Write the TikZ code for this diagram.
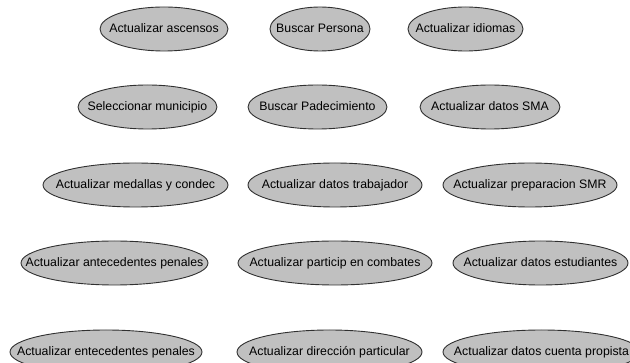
\documentclass[tikz,border=0pt]{standalone}
\usepackage{fontspec}
\setmainfont{Liberation Sans}
\usetikzlibrary{shapes.geometric}
\definecolor{casefill}{HTML}{C0C0C0}
\definecolor{caseline}{HTML}{303030}
% label of zero width, so that the ellipse keeps its given size
\newcommand{\caselabel}[1]{\makebox[0pt]{#1}}
\begin{document}
\begin{tikzpicture}[x=1pt,y=-1pt,
  usecase/.style={ellipse, draw=caseline, fill=casefill, line width=0.9pt,
    inner sep=0pt, minimum height=44pt, text height=1.6ex, text depth=0.3ex,
    font=\fontsize{12.3}{14}\selectfont, text=black}]
\useasboundingbox (0,0) rectangle (630,363);
% row 1
\node[usecase, minimum width=128pt] (asc)  at (164,29)   {\caselabel{Actualizar ascensos}};
\node[usecase, minimum width=100pt] (bper) at (320,29)   {\caselabel{Buscar Persona}};
\node[usecase, minimum width=115pt] (idi)  at (465.5,29) {\caselabel{Actualizar idiomas}};
% row 2
\node[usecase, minimum width=139pt] (mun)  at (147.5,107) {\caselabel{Seleccionar municipio}};
\node[usecase, minimum width=139pt] (bpad) at (317.5,107) {\caselabel{Buscar Padecimiento}};
\node[usecase, minimum width=140pt] (sma)  at (490,107)   {\caselabel{Actualizar datos SMA}};
% row 3
\node[usecase, minimum width=185pt] (med)  at (135.5,185) {\caselabel{Actualizar medallas y condec}};
\node[usecase, minimum width=174pt] (trab) at (335,185)   {\caselabel{Actualizar datos trabajador}};
\node[usecase, minimum width=174pt] (smr)  at (530,185)   {\caselabel{Actualizar preparacion SMR}};
% row 4
\node[usecase, minimum width=187pt] (ant)  at (114.5,263) {\caselabel{Actualizar antecedentes penales}};
\node[usecase, minimum width=194pt] (comb) at (335,263)   {\caselabel{Actualizar particip en combates}};
\node[usecase, minimum width=175pt] (est)  at (540.5,263) {\caselabel{Actualizar datos estudiantes}};
% row 5
\node[usecase, minimum width=192pt] (ent)  at (106,352)   {\caselabel{Actualizar entecedentes penales}};
\node[usecase, minimum width=185pt] (dir)  at (329.5,352) {\caselabel{Actualizar dirección particular}};
\node[usecase, minimum width=197pt] (cta)  at (541.5,352) {\caselabel{Actualizar datos cuenta propista}};
\end{tikzpicture}
\end{document}
